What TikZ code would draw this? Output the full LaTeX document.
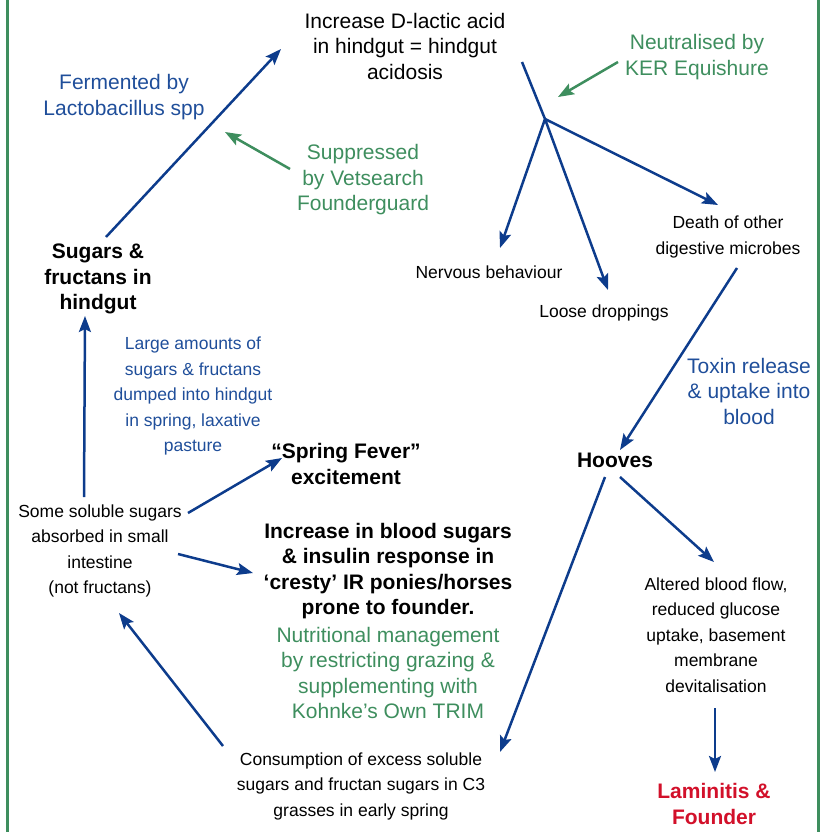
\documentclass[tikz,border=0pt]{standalone}
\usepackage{fontspec}
\setmainfont{Liberation Sans}
\usepackage{xcolor}
\usetikzlibrary{arrows.meta}
\definecolor{navy}{HTML}{0D3C8C}
\definecolor{inkblue}{HTML}{1F4E9A}
\definecolor{leaf}{HTML}{3E8E5E}
\definecolor{crimson}{HTML}{D2102A}
\newcommand{\smtxt}{\fontsize{17.5}{25.5}\selectfont}
\newcommand{\bgtxt}{\fontsize{21}{25.5}\selectfont}
\begin{document}
\begin{tikzpicture}[x=1pt,y=-1pt,
	txt/.style={align=center,inner sep=0pt,font=\smtxt},
	lbl/.style={align=center,inner sep=0pt,font=\bgtxt},
	hd/.style={align=center,inner sep=0pt,font=\bgtxt\bfseries},
	arr/.style={navy,line width=2.5pt,-{Stealth[length=16pt,width=12pt,inset=3pt]}},
	garr/.style={arr,leaf}]
	\clip (0,0) rectangle (825,832);
	% Rahmen
	\draw[leaf,line width=3pt] (7.5,-20) rectangle (818,860);
	% Knoten
	\node[lbl] (lactic) at (405,46) {Increase D-lactic acid\\in hindgut = hindgut\\acidosis};
	\node[lbl,leaf] (neutral) at (697,57) {Neutralised by\\KER Equishure};
	\node[lbl,inkblue] (ferment) at (124,97) {Fermented by\\Lactobacillus spp};
	\node[lbl,leaf] (suppress) at (363,180) {Suppressed\\by Vetsearch\\Founderguard};
	\node[hd] (sugars) at (98,279) {Sugars \&\\fructans in\\hindgut};
	\node[txt] (nervous) at (489,272) {Nervous behaviour};
	\node[txt] (loose) at (604,313) {Loose droppings};
	\node[txt] (death) at (728,237) {Death of other\\digestive microbes};
	\node[lbl,inkblue] (toxin) at (749,391) {Toxin release\\\& uptake into\\blood};
	\node[txt,inkblue] (dumped) at (193,396) {Large amounts of\\sugars \& fructans\\dumped into hindgut\\in spring, laxative\\pasture};
	\node[hd] (fever) at (346,464) {“Spring Fever”\\excitement};
	\node[hd] (hooves) at (615,460) {Hooves};
	\node[txt] (soluble) at (100,551) {Some soluble sugars\\absorbed in small\\intestine\\(not fructans)};
	\node[hd] (blood) at (388,571) {Increase in blood sugars\\\& insulin response in\\‘cresty’ IR ponies/horses\\prone to founder.};
	\node[lbl,leaf] (nutri) at (388,673) {Nutritional management\\by restricting grazing \&\\supplementing with\\Kohnke’s Own TRIM};
	\node[txt] (altered) at (716,635) {Altered blood flow,\\reduced glucose\\uptake, basement\\membrane\\devitalisation};
	\node[hd,crimson] (laminitis) at (714,804) {Laminitis \&\\Founder};
	\node[txt] (consume) at (361,786) {Consumption of excess soluble\\sugars and fructan sugars in C3\\grasses in early spring};
	\coordinate (fork) at (545,119);
	% Pfeile
	\draw[arr] ([shift={(8,-42)}]sugars.center) -- ([shift={(-124,3)}]lactic.center);
	\draw[arr,-] ([shift={(117,16)}]lactic.center) -- (fork);
	\draw[arr] (fork) -- ([shift={(11,-24)}]nervous.center);
	\draw[arr] (fork) -- ([shift={(4,-23)}]loose.center);
	\draw[arr] (fork) -- ([shift={(-10,-32)}]death.center);
	\draw[garr] ([shift={(-79,5)}]neutral.center) -- ([shift={(13,-22)}]fork);
	\draw[garr] ([shift={(-73,-11)}]suppress.center) -- ([shift={(127,-147)}]sugars.center);
	\draw[arr] ([shift={(9,31)}]death.center) -- ([shift={(5,-10)}]hooves.center);
	\draw[arr] ([shift={(-10,17)}]hooves.center) -- ([shift={(139,-34)}]consume.center);
	\draw[arr] ([shift={(5,17)}]hooves.center) -- ([shift={(-2,-73)}]altered.center);
	\draw[arr] ([shift={(-1,73)}]altered.center) -- ([shift={(1,-32)}]laminitis.center);
	\draw[arr] ([shift={(-138,-40)}]consume.center) -- ([shift={(19,62)}]soluble.center);
	\draw[arr] ([shift={(88,-38)}]soluble.center) -- ([shift={(-64,-6)}]fever.center);
	\draw[arr] ([shift={(78,3)}]soluble.center) -- ([shift={(-135,2)}]blood.center);
	\draw[arr] ([shift={(-16,-54)}]soluble.center) -- ([shift={(-13,37)}]sugars.center);
\end{tikzpicture}
\end{document}
